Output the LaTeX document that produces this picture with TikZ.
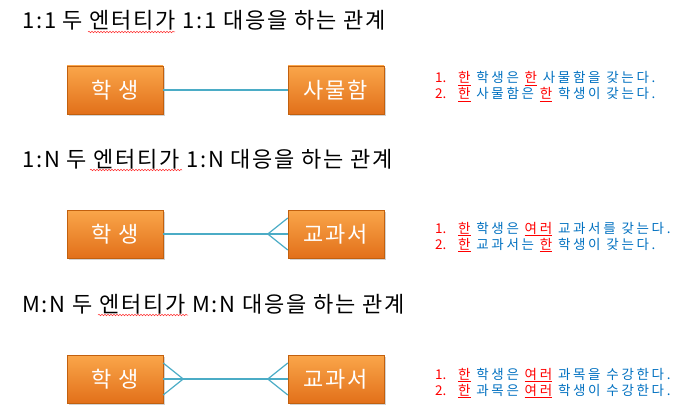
\documentclass[tikz,border=0pt]{standalone}
\usepackage{fontspec}
\newfontfamily\kr[LetterSpace=8]{Noto Sans CJK KR}
\newfontfamily\krnote[LetterSpace=20]{Noto Sans CJK KR}
\newfontfamily\krplain{Noto Sans CJK KR}
\usetikzlibrary{calc,shadows,decorations.pathmorphing}

\definecolor{boxtop}{HTML}{FAA64A}
\definecolor{boxbot}{HTML}{E2701A}
\definecolor{boxline}{HTML}{C2600E}
\definecolor{linkcol}{HTML}{4BACC6}
\definecolor{txtblue}{HTML}{0070C0}
\definecolor{txtred}{HTML}{FF0000}

% red underlined word in the notes
\newcommand{\hl}[1]{{\color{txtred}\underline{#1}}}

\tikzset{
  entity/.style={rectangle, draw=boxline, top color=boxtop, bottom color=boxbot,
    minimum width=96pt, minimum height=48pt, inner sep=0pt, text=white,
    font=\kr\fontsize{22}{22}\selectfont, drop shadow={opacity=0.35}},
  heading/.style={anchor=base west, inner sep=0pt, font=\kr\fontsize{22}{22}\selectfont},
  note/.style={anchor=base west, inner sep=0pt, text=txtblue, font=\krnote\fontsize{13.5}{13.5}\selectfont},
  num/.style={anchor=base west, inner sep=0pt, text=txtred, font=\krplain\fontsize{13.5}{13.5}\selectfont},
  link/.style={draw=linkcol, line width=1.2pt},
  squiggle/.style={draw=red!80, line width=0.5pt, decorate,
    decoration={snake, amplitude=0.8pt, segment length=3pt}}
}

\begin{document}
\begin{tikzpicture}[x=1pt, y=-1pt]

  % Parameters
  \def\crow{20}   % length of the crow's foot
  \def\toe{16}    % half spread of the crow's foot

  \useasboundingbox (0,0) rectangle (700,417);

  % ---- 1:1 ----
  \node[heading] (head1) at (22,29) {1:1 두 엔터티가 1:1 대응을 하는 관계};
  \draw[squiggle] (88,32) -- (175,32);
  \node[entity] (student1) at (115,90) {학 생};
  \node[entity] (locker) at (336,90) {사물함};
  \draw[link] (student1.east) -- (locker.west);
  \node[num] (n11) at (435,83) {1.};
  \node[note] (t11) at (458,83) {\hl{한} 학생은 \hl{한} 사물함을 갖는다.};
  \node[num] (n12) at (435,99) {2.};
  \node[note] (t12) at (458,99) {\hl{한} 사물함은 \hl{한} 학생이 갖는다.};

  % ---- 1:N ----
  \node[heading] (head2) at (22,167) {1:N 두 엔터티가 1:N 대응을 하는 관계};
  \draw[squiggle] (90,170) -- (182,170);
  \node[entity] (student2) at (115,234) {학 생};
  \node[entity] (book2) at (336,234) {교과서};
  \draw[link] (student2.east) -- (book2.west);
  \coordinate (foot2) at ($(book2.west)+(-\crow,0)$);
  \draw[link] ($(book2.west)+(0,-\toe)$) -- (foot2) -- ($(book2.west)+(0,\toe)$);
  \node[num] (n21) at (435,233) {1.};
  \node[note] (t21) at (458,233) {\hl{한} 학생은 \hl{여러} 교과서를 갖는다.};
  \node[num] (n22) at (435,249) {2.};
  \node[note] (t22) at (458,249) {\hl{한} 교과서는 \hl{한} 학생이 갖는다.};

  % ---- M:N ----
  \node[heading] (head3) at (22,312) {M:N 두 엔터티가 M:N 대응을 하는 관계};
  \draw[squiggle] (98,315) -- (188,315);
  \node[entity] (student3) at (115,379) {학 생};
  \node[entity] (book3) at (336,379) {교과서};
  \draw[link] (student3.east) -- (book3.west);
  \coordinate (foot3a) at ($(student3.east)+(\crow,0)$);
  \draw[link] ($(student3.east)+(0,-\toe)$) -- (foot3a) -- ($(student3.east)+(0,\toe)$);
  \coordinate (foot3b) at ($(book3.west)+(-\crow,0)$);
  \draw[link] ($(book3.west)+(0,-\toe)$) -- (foot3b) -- ($(book3.west)+(0,\toe)$);
  \node[num] (n31) at (435,379) {1.};
  \node[note] (t31) at (458,379) {\hl{한} 학생은 \hl{여러} 과목을 수강한다.};
  \node[num] (n32) at (435,395) {2.};
  \node[note] (t32) at (458,395) {\hl{한} 과목은 \hl{여러} 학생이 수강한다.};

\end{tikzpicture}
\end{document}
